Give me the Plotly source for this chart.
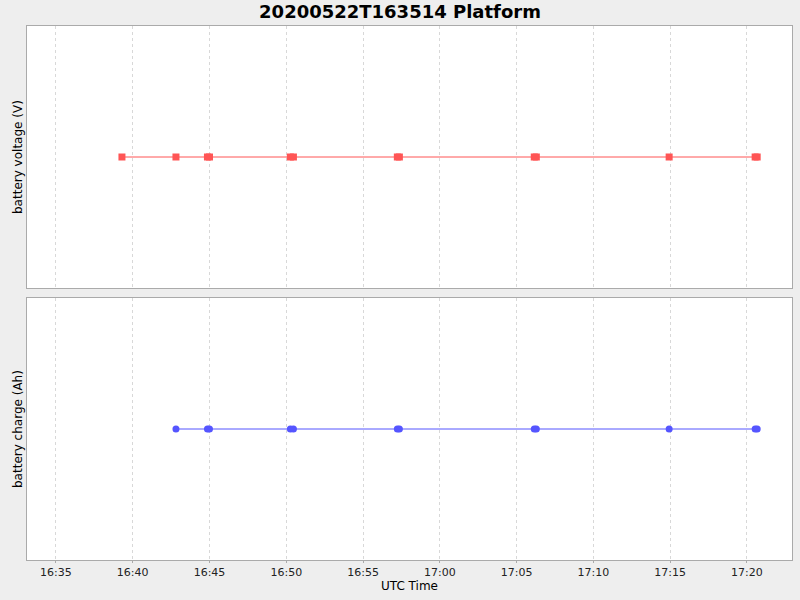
import plotly.graph_objects as go
from plotly.subplots import make_subplots

day = "2020-05-22 "

# battery voltage samples (value not labelled on chart, drawn as constant)
voltage_times = ["16:39:18", "16:42:49", "16:44:52", "16:45:00", "16:50:16", "16:50:28",
                 "16:57:14", "16:57:22", "17:06:09", "17:06:17", "17:14:56", "17:20:32", "17:20:40"]
voltage_values = [12.0] * len(voltage_times)

# battery charge samples
charge_times = ["16:42:49", "16:44:52", "16:45:00", "16:50:16", "16:50:28",
                "16:57:14", "16:57:22", "17:06:09", "17:06:17", "17:14:56", "17:20:32", "17:20:40"]
charge_values = [10.0] * len(charge_times)

x_start = day + "16:33:07"
x_end = day + "17:22:56"

W, H = 800, 600
ML, MR, MT, MB = 27, 8, 26, 40
pw, ph = W - ML - MR, H - MT - MB

fig = make_subplots(rows=2, cols=1, shared_xaxes=True, vertical_spacing=10 / ph)

fig.add_trace(go.Scatter(
    x=[day + t for t in voltage_times], y=voltage_values, mode="lines+markers",
    line=dict(color="#ff5555", width=1),
    marker=dict(symbol="square", size=7, color="#ff5555"),
    showlegend=False), row=1, col=1)

fig.add_trace(go.Scatter(
    x=[day + t for t in charge_times], y=charge_values, mode="lines+markers",
    line=dict(color="#5555ff", width=1),
    marker=dict(symbol="circle", size=7, color="#5555ff"),
    showlegend=False), row=2, col=1)

fig.update_xaxes(
    type="date", range=[x_start, x_end], tickformat="%H:%M",
    tick0=day + "16:35:00", dtick=300000,
    showgrid=True, gridcolor="#d8d8d8", griddash="3px,3px", gridwidth=1,
    showline=True, linecolor="#aaaaaa", linewidth=1, mirror=True,
    zeroline=False, automargin=False,
)
fig.update_xaxes(showticklabels=False, ticks="", row=1, col=1)
fig.update_xaxes(ticks="outside", ticklen=2, tickcolor="#aaaaaa",
                 tickfont=dict(family="DejaVu Sans", size=11, color="#222222"),
                 row=2, col=1)

fig.update_yaxes(showgrid=False, showticklabels=False, ticks="", zeroline=False,
                 showline=True, linecolor="#aaaaaa", linewidth=1, mirror=True,
                 automargin=False)
fig.update_yaxes(range=[11.0, 13.0], row=1, col=1)
fig.update_yaxes(range=[9.0, 11.0], row=2, col=1)

label_font = dict(family="DejaVu Sans", size=12, color="#000000")
dom1 = fig.layout.yaxis.domain
dom2 = fig.layout.yaxis2.domain
fig.add_annotation(text="battery voltage (V)", xref="paper", yref="paper",
                   x=-9 / pw, y=(dom1[0] + dom1[1]) / 2, textangle=-90,
                   xanchor="center", yanchor="middle", showarrow=False, font=label_font)
fig.add_annotation(text="battery charge (Ah)", xref="paper", yref="paper",
                   x=-9 / pw, y=(dom2[0] + dom2[1]) / 2, textangle=-90,
                   xanchor="center", yanchor="middle", showarrow=False, font=label_font)
fig.add_annotation(text="UTC Time", xref="paper", yref="paper",
                   x=0.5, y=-26 / ph, xanchor="center", yanchor="middle",
                   showarrow=False, font=label_font)

fig.update_layout(
    width=W, height=H,
    paper_bgcolor="#eeeeee", plot_bgcolor="#ffffff",
    margin=dict(l=ML, r=MR, t=MT, b=MB),
    title=dict(text="<b>20200522T163514 Platform</b>", x=0.5, xref="container",
               y=1 - 12 / H, yanchor="middle",
               font=dict(family="DejaVu Sans", size=18, color="#000000")),
)

# page body has a default 8px margin; drop it so the figure fills the window
fig.write_html("out.html", config={"displayModeBar": False},
               post_script="document.body.style.margin='0';document.body.style.background='#eeeeee';")
